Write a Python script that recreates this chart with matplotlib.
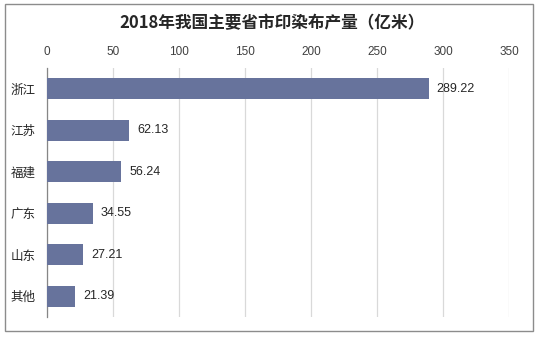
import matplotlib
matplotlib.use("Agg")
import matplotlib.pyplot as plt
from matplotlib.patches import Rectangle

plt.rcParams['font.family'] = ['Noto Sans CJK SC', 'DejaVu Sans']

categories = ["浙江", "江苏", "福建", "广东", "山东", "其他"]
values = [289.22, 62.13, 56.24, 34.55, 27.21, 21.39]
xticks = [0, 50, 100, 150, 200, 250, 300, 350]
title = "2018年我国主要省市印染布产量（亿米）"

fig = plt.figure(figsize=(5.38, 3.37), dpi=100)
ax = fig.add_axes([47/538, 1-317/337, (509-47)/538, (317-68)/337])

ypos = list(range(len(categories)))
ax.barh(ypos, values, height=0.5, color="#67739c", zorder=3)
for y, v in zip(ypos, values):
    ax.text(v + 6, y, f"{v:.2f}", va="center", ha="left", fontsize=9,
            color="#262626", family=["Liberation Sans", "DejaVu Sans"])

ax.set_xlim(0, 350)
ax.set_ylim(len(categories) - 0.5, -0.5)
ax.set_yticks(ypos)
ax.set_yticklabels(categories, fontsize=9, color="#262626")
ax.set_xticks(xticks)
ax.set_xticklabels([str(t) for t in xticks], fontsize=8.5, color="#404040",
                   family=["Liberation Sans", "DejaVu Sans"])
ax.xaxis.tick_top()
ax.tick_params(axis="x", length=0, pad=7)
ax.tick_params(axis="y", length=0, pad=8)
ax.grid(axis="x", color="#d9d9d9", linewidth=0.9, zorder=0)
for s in ["top", "right", "bottom"]:
    ax.spines[s].set_visible(False)
ax.spines["left"].set_color("#868686")
ax.spines["left"].set_linewidth(0.9)

fig.text(272/538, 1-23/337, title, ha="center", va="center", fontsize=12,
         fontweight="bold", color="#262626")

fig.patches.append(Rectangle((5/538, 1-331/337), 528/538, 327/337,
                             transform=fig.transFigure, fill=False,
                             edgecolor="#8c8c8c", linewidth=1.0))

fig.savefig("out.png", dpi=100)
